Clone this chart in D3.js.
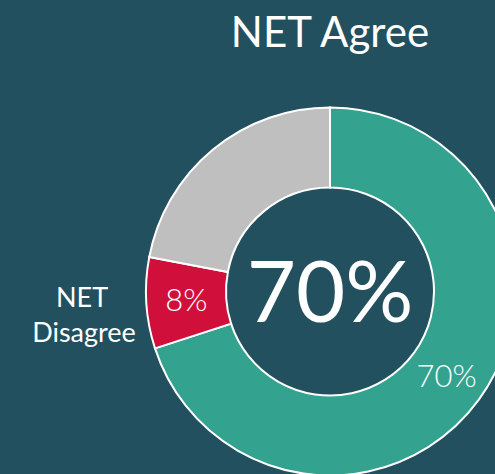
<!DOCTYPE html>
<html>
<head>
<meta charset="utf-8">
<script src="https://cdn.jsdelivr.net/npm/d3@7"></script>
<style>
  html, body { margin: 0; padding: 0; background: #22505f; }
  svg { display: block; }
</style>
</head>
<body>
<svg id="chart" width="495" height="474"></svg>
<script>
// data
const categories = ["NET Agree", "NET Disagree", "Neither"]
const values = [70, 8, 22]
const sliceLabels = ["70%", "8%", ""]
const colors = ["#33a38f", "#d0103a", "#bfbfbf"]

const title = "NET Agree"
const centerText = "70%"

const svg = d3.select("#chart")
const font = "Lato, 'Open Sans', sans-serif"

const cx = 330, cy = 291.5
const outerR = 184, innerR = 104

const g = svg.append("g").attr("transform", `translate(${cx},${cy})`)

const pie = d3.pie().sort(null).value(d => d.value)
const arc = d3.arc().innerRadius(innerR).outerRadius(outerR)

const slices = pie(categories.map((c, i) => ({ name: c, value: values[i], label: sliceLabels[i], color: colors[i] })))

g.selectAll("path.slice")
    .data(slices)
    .join("path")
    .attr("class", "slice")
    .attr("d", arc)
    .attr("fill", d => d.data.color)
    .attr("stroke", "#fff")
    .attr("stroke-width", 2)

// labels on slices
g.selectAll("text.slabel")
    .data(slices)
    .join("text")
    .attr("class", "slabel")
    .attr("transform", d => `translate(${arc.centroid(d)})`)
    .attr("dy", "0.35em")
    .attr("text-anchor", "middle")
    .attr("fill", "#fff")
    .attr("font-family", font)
    .attr("font-weight", 300)
    .attr("font-size", (d, i) => i == 0 ? 31 : 31)
    .text(d => d.data.label)

// big number in the hole
g.append("text")
    .attr("text-anchor", "middle")
    .attr("dy", "0.36em")
    .attr("fill", "#fff")
    .attr("font-family", font)
    .attr("font-size", 85)
    .text(centerText)

// title
svg.append("text")
    .attr("x", cx)
    .attr("y", 47)
    .attr("text-anchor", "middle")
    .attr("fill", "#fff")
    .attr("font-family", font)
    .attr("font-size", 42)
    .text(title)

// side label for the red slice
const side = svg.append("text")
    .attr("text-anchor", "middle")
    .attr("fill", "#fff")
    .attr("font-family", font)
    .attr("font-size", 27)
side.append("tspan").attr("x", 82).attr("y", 307).text("NET")
side.append("tspan").attr("x", 84).attr("y", 342).text("Disagree")
</script>
</body>
</html>
